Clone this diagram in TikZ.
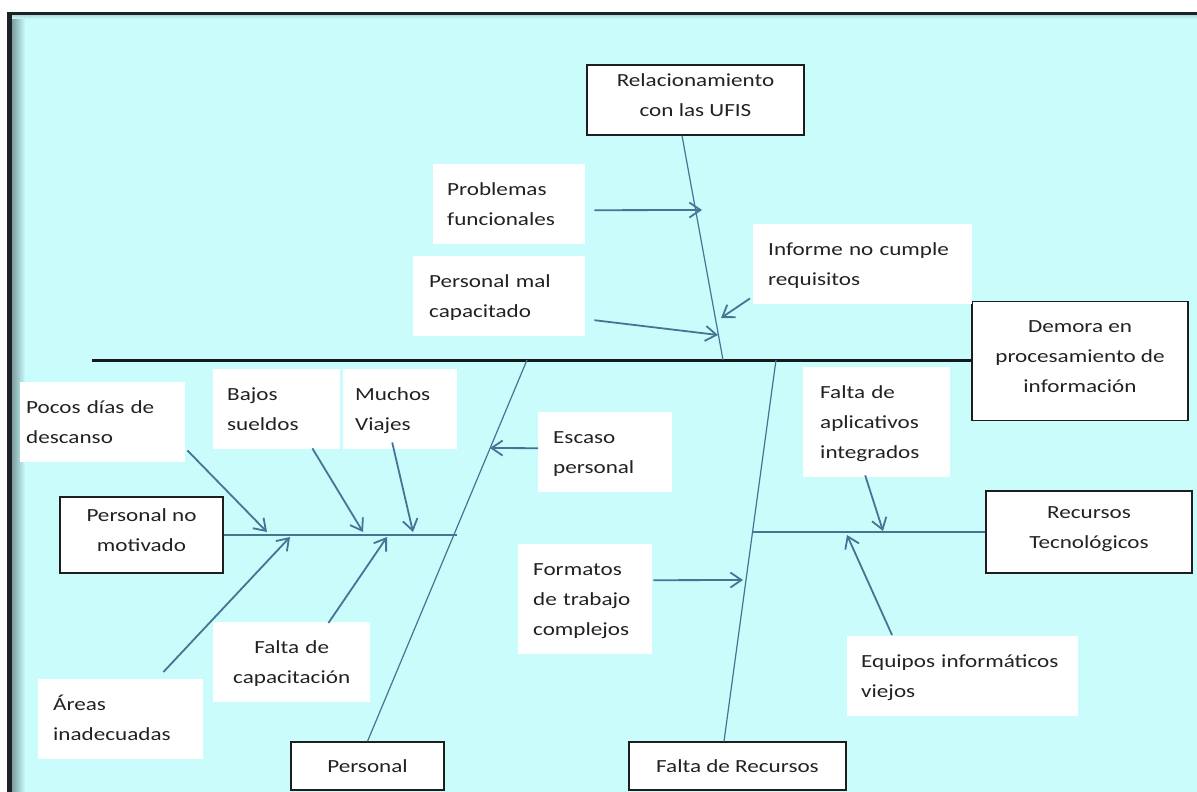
\documentclass[tikz,border=0pt]{standalone}
\usepackage{fontspec}
\setmainfont{Carlito}[FakeStretch=1.25]
\usetikzlibrary{arrows.meta}

\definecolor{bg}{RGB}{202,252,252}
\definecolor{frameline}{RGB}{28,34,38}
\definecolor{frameshade}{RGB}{120,150,152}
\definecolor{boneblue}{RGB}{66,118,148}
\definecolor{spineblack}{RGB}{18,26,30}
\definecolor{txt}{RGB}{34,34,34}
\definecolor{boxline}{RGB}{30,30,30}

\tikzset{
  every node/.style={font=\fontsize{18.5}{30}\selectfont, text=txt},
  lbl/.style={fill=white, anchor=north west, align=left, inner ysep=10pt,
    execute at begin node=\strut, execute at end node=\strut},
  cbox/.style={draw=boxline, line width=1.3pt, fill=white, align=center,
    inner sep=0pt, execute at begin node=\strut, execute at end node=\strut},
  bone/.style={draw=boneblue, line width=1.2pt},
  spine/.style={draw=spineblack, line width=3pt},
  cause/.style={draw=boneblue, line width=1.8pt,
    -{Straight Barb[length=11pt,width=15pt]}}
}

\begin{document}
\begin{tikzpicture}[x=1pt,y=-1pt]
\useasboundingbox (0,0) rectangle (1197,792);

% page and framed panel
\fill[white] (0,0) rectangle (1197,792);
\fill[bg] (9,13) rectangle (1197,792);
\shade[left color=frameshade, right color=bg] (11,13) rectangle (25,792);
\shade[top color=frameshade!40!bg, bottom color=bg] (11,14) rectangle (1197,19);
\fill[frameline] (7,12) rectangle (11.5,792);
\fill[frameline] (7,12) rectangle (1197,15);

% effect and main categories
\node[cbox, minimum width=217pt, minimum height=70pt] (rel) at (695.5,100) {Relacionamiento\\con las UFIS};
\node[cbox, minimum width=216pt, minimum height=119pt] (dem) at (1080,361) {Demora en\\procesamiento de\\información};
\node[cbox, minimum width=206pt, minimum height=82pt] (rtec) at (1089,532) {Recursos\\Tecnológicos};
\node[cbox, minimum width=163pt, minimum height=76pt] (pnm) at (141.5,535) {Personal no\\motivado};
\node[cbox, minimum width=153pt, minimum height=48pt] (pers) at (367.5,766) {Personal};
\node[cbox, minimum width=217pt, minimum height=48pt] (fdr) at (737.5,766) {Falta de Recursos};

% cause labels
\node[lbl, inner xsep=14pt, text width=124pt] (prob) at (433,164) {Problemas\\funcionales};
\node[lbl, inner xsep=16pt, text width=140pt] (pmc) at (413,256) {Personal mal\\capacitado};
\node[lbl, inner xsep=15pt, text width=189pt] (inf) at (753,224) {Informe no cumple\\requisitos};
\node[lbl, inner xsep=15pt, text width=104pt] (esc) at (538,412) {Escaso\\personal};
\node[lbl, inner xsep=15pt, text width=104pt] (form) at (518,544) {Formatos\\de trabajo\\complejos};
\node[lbl, inner xsep=17pt, text width=113pt] (apl) at (803,367) {Falta de\\aplicativos\\integrados};
\node[lbl, inner xsep=14pt, text width=203pt] (equ) at (847,636) {Equipos informáticos\\viejos};
\node[lbl, inner xsep=6pt, text width=153pt] (poc) at (20,382) {Pocos días de\\descanso};
\node[lbl, inner xsep=14pt, text width=99pt] (baj) at (213,369) {Bajos\\sueldos};
\node[lbl, inner xsep=12pt, text width=90pt] (muc) at (343,369) {Muchos\\Viajes};
\node[lbl, inner xsep=15pt, text width=135pt] (are) at (38,679) {Áreas\\inadecuadas};
\node[lbl, align=center, inner xsep=20pt, text width=117pt] (fcap) at (213,622) {Falta de\\capacitación};

% spine and bones
\coordinate (spine-l) at (92,360);
\coordinate (j-rel) at (723,360);
\coordinate (j-pers) at (527,360);
\coordinate (j-fdr) at (776,360);
\coordinate (j-pnm) at (457,535);
\coordinate (j-rtec) at (753,532);
\draw[spine] (spine-l) -- (dem.west |- spine-l);
\draw[bone] ([xshift=-13.5pt]rel.south) -- (j-rel);
\draw[bone] (pers.north) -- (j-pers);
\draw[bone] ([xshift=-13.5pt]fdr.north) -- (j-fdr);
\draw[bone] (pnm.east) -- (j-pnm);
\draw[bone] (rtec.west) -- (j-rtec);

% arrow tips on the bones
\coordinate (t-prob) at (702,210);
\coordinate (t-pmc) at (718,335);
\coordinate (t-inf) at (721,318);
\coordinate (t-esc) at (490,448);
\coordinate (t-form) at (743,580);
\coordinate (t-apl) at (883,531);
\coordinate (t-equ) at (847,535);
\coordinate (t-poc) at (267,532);
\coordinate (t-baj) at (363,532);
\coordinate (t-muc) at (413,532);
\coordinate (t-are) at (290,537);
\coordinate (t-fcap) at (387,537);

% causes
\draw[cause] ([shift={(9,6)}]prob.east) -- (t-prob);
\draw[cause] ([shift={(9,24)}]pmc.east) -- (t-pmc);
\draw[cause] ([shift={(-3,-6)}]inf.south west) -- (t-inf);
\draw[cause] ([shift={(0,-4)}]esc.west) -- (t-esc);
\draw[cause] ([shift={(1,-19)}]form.east) -- (t-form);
\draw[cause] ([shift={(-11.5,-2)}]apl.south) -- (t-apl);
\draw[cause] ([shift={(45,-1)}]equ.north west) -- (t-equ);
\draw[cause] ([shift={(2,-12)}]poc.south east) -- (t-poc);
\draw[cause] ([shift={(-28,-1)}]baj.south east) -- (t-baj);
\draw[cause] ([shift={(-8,-7)}]muc.south) -- (t-muc);
\draw[cause] ([shift={(-40,-7)}]are.north east) -- (t-are);
\draw[cause] ([shift={(-42,1)}]fcap.north east) -- (t-fcap);
\end{tikzpicture}
\end{document}
